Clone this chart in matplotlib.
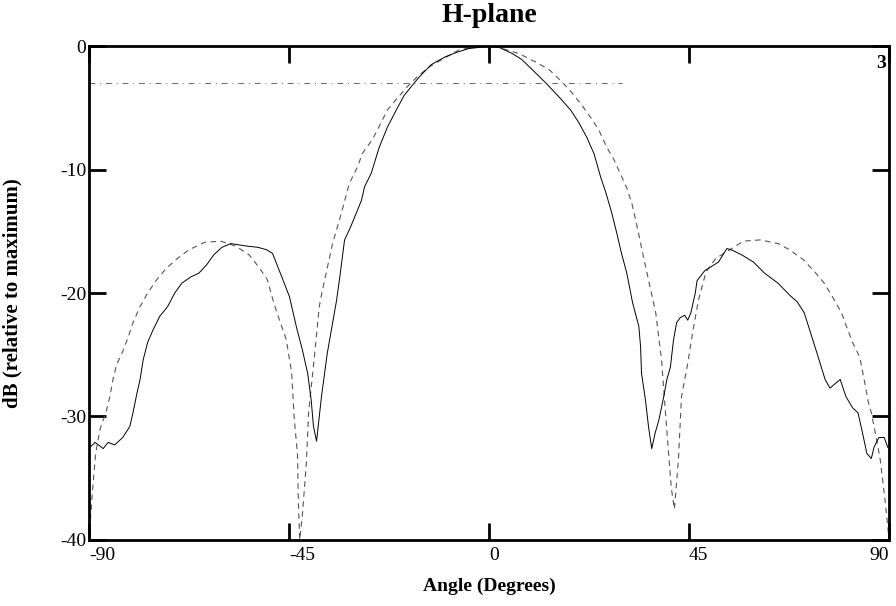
import matplotlib.pyplot as plt

# measured H-plane pattern (solid)
meas_angle = [-89.8, -88.6, -86.8, -85.7, -84.2, -82.4, -80.8, -80.1, -79.2, -78.5,
              -77.8, -76.8, -75.6, -74.1, -72.3, -70.7, -69.1, -67.1, -65.3, -63.5,
              -61.9, -60.1, -58.1, -56.3, -54.5, -52.0, -50.0, -48.7, -46.4, -44.9,
              -43.3, -42.0, -40.8, -40.0, -39.5, -38.8, -37.7, -36.4, -34.3, -33.5,
              -32.5, -31.2, -28.7, -28.0, -26.5, -24.7, -22.9, -20.9, -19.1, -17.3,
              -15.7, -13.0, -10.0, -7.2, -4.5, -2.0, 0.5, 2.2, 5.2, 7.4,
              9.7, 12.8, 15.7, 18.4, 20.2, 22.0, 23.6, 25.1, 26.3, 27.6,
              28.7, 29.8, 31.0, 32.3, 33.7, 34.1, 34.3, 35.2, 35.9, 36.6,
              37.4, 38.2, 39.3, 40.0, 40.8, 41.5, 42.2, 43.0, 44.0, 44.7,
              45.4, 46.4, 46.8, 48.5, 51.6, 53.5, 54.5, 56.8, 59.5, 62.0,
              65.0, 67.7, 69.3, 70.9, 72.4, 73.8, 75.6, 76.7, 79.0, 80.3,
              81.8, 83.0, 84.0, 85.0, 86.0, 86.6, 87.7, 88.9, 89.7]
meas_db = [-32.5, -32.1, -32.6, -32.1, -32.3, -31.7, -30.8, -29.7, -28.1, -27.0,
           -25.4, -24.0, -23.0, -21.9, -21.1, -20.0, -19.2, -18.7, -18.4, -17.7,
           -16.9, -16.3, -16.0, -16.1, -16.2, -16.3, -16.5, -16.8, -18.9, -20.3,
           -22.8, -24.6, -26.5, -28.7, -30.8, -32.0, -28.4, -24.9, -20.6, -18.5,
           -15.7, -14.7, -12.5, -11.4, -10.3, -8.2, -6.6, -5.2, -4.0, -3.2,
           -2.5, -1.5, -0.9, -0.5, -0.2, -0.1, 0.0, -0.1, -0.6, -1.1,
           -1.9, -3.0, -4.1, -5.2, -6.2, -7.4, -8.7, -10.6, -11.9, -13.5,
           -15.1, -16.8, -18.4, -20.8, -22.7, -24.4, -26.5, -28.7, -30.9, -32.6,
           -31.3, -30.3, -28.4, -27.0, -26.0, -23.8, -22.4, -22.0, -21.8, -22.2,
           -21.6, -20.0, -19.0, -18.2, -17.5, -16.4, -16.5, -16.9, -17.5, -18.4,
           -19.2, -20.2, -20.7, -21.6, -23.3, -24.9, -27.0, -27.7, -27.0, -28.4,
           -29.3, -29.7, -31.3, -33.0, -33.4, -32.5, -31.7, -31.7, -32.5]

# theoretical pattern (dashed)
theo_angle = [-90.0, -89.2, -88.5, -87.5, -86.2, -85.3, -84.6, -83.8, -82.6, -81.2,
              -80.1, -78.5, -76.8, -74.7, -72.6, -70.1, -67.5, -64.0, -60.4, -57.0,
              -54.0, -51.8, -49.9, -48.9, -47.8, -45.6, -44.4, -43.8, -43.1, -42.9,
              -42.6, -42.0, -41.1, -40.6, -39.3, -38.2, -37.5, -35.2, -33.2, -31.4,
              -29.6, -28.5, -26.3, -24.7, -22.9, -20.6, -18.4, -16.2, -13.5, -9.7,
              -6.7, -2.0, 2.0, 6.7, 10.5, 13.5, 16.4, 18.7, 20.9, 22.9,
              24.7, 26.5, 28.1, 29.6, 31.0, 32.1, 33.0, 35.0, 37.5, 38.8,
              39.7, 40.4, 41.0, 41.7, 42.6, 43.3, 44.7, 45.8, 47.1, 48.8,
              51.0, 54.6, 57.2, 61.0, 65.1, 67.6, 70.7, 73.3, 75.4, 77.4,
              79.3, 80.4, 81.9, 83.4, 84.6, 85.3, 86.0, 87.0, 88.0, 89.0, 90.0]
theo_db = [-40.0, -36.0, -33.0, -31.0, -29.7, -28.4, -27.0, -25.8, -24.9, -23.6,
           -22.4, -21.1, -20.0, -18.9, -18.0, -17.2, -16.5, -15.9, -15.8, -16.2,
           -16.9, -17.9, -18.9, -20.2, -21.5, -23.8, -26.5, -30.3, -33.0, -36.8,
           -40.0, -38.0, -33.8, -29.7, -25.2, -21.1, -19.8, -16.0, -13.5, -11.1,
           -9.8, -8.7, -7.6, -6.5, -5.2, -4.2, -3.3, -2.5, -1.7, -0.9,
           -0.3, 0.0, -0.1, -0.6, -1.3, -1.9, -2.9, -3.8, -4.8, -5.8,
           -6.8, -8.2, -9.2, -10.4, -11.5, -12.7, -14.1, -17.5, -21.6, -25.4,
           -29.7, -33.0, -35.8, -37.5, -33.5, -28.4, -25.7, -23.2, -20.6, -18.3,
           -17.2, -16.4, -15.8, -15.7, -16.0, -16.5, -17.3, -18.3, -19.2, -20.4,
           -21.6, -22.7, -24.1, -25.2, -27.4, -28.8, -29.7, -31.5, -33.5, -36.5, -40.0]

# -3 dB marker
marker_db = -3
marker_span = [-90, 30]

xticks = [-90, -45, 0, 45, 90]
yticks = [0, -10, -20, -30, -40]

plt.rcParams['font.family'] = ['Liberation Serif', 'DejaVu Serif']

fig = plt.figure(figsize=(8.96, 6.06), dpi=100)
ax = fig.add_axes([0.0993, 0.109, 0.893, 0.815])

ax.plot(theo_angle, theo_db, color='#555555', lw=0.8, linestyle=(0, (5, 4)))
ax.plot(meas_angle, meas_db, color='black', lw=0.7)
ax.plot(marker_span, [marker_db, marker_db], color='#666666', lw=0.7,
        linestyle=(0, (6, 5, 1, 5)))
ax.text(89.3, -1.4, '3', ha='right', va='center', fontsize=14, fontweight='bold')

ax.set_xlim(-90, 90)
ax.set_ylim(-40, 0)
ax.set_xticks(xticks)
ax.set_xticklabels(['-90', '-45', '0', '45', '90'])
ax.set_yticks(yticks)
ax.set_yticklabels(['0', '-10', '-20', '-30', '-40'])
ax.tick_params(direction='in', length=12, width=2, top=True, right=True,
               labelsize=14, pad=5)
ax.tick_params(axis='y', pad=2)
xl = ax.get_xticklabels()
for lbl in xl[:-1]:
    lbl.set_ha('left')
xl[-1].set_ha('right')
for s in ax.spines.values():
    s.set_linewidth(2)

ax.set_title('H-plane', fontsize=20, fontweight='bold', pad=17)
ax.set_xlabel('Angle (Degrees)', fontsize=14, fontweight='bold', labelpad=10)
ax.set_ylabel('dB (relative to maximum)', fontsize=15, fontweight='bold')
ax.yaxis.set_label_coords(-0.083, 0.5)

fig.savefig('out.png', dpi=100)
